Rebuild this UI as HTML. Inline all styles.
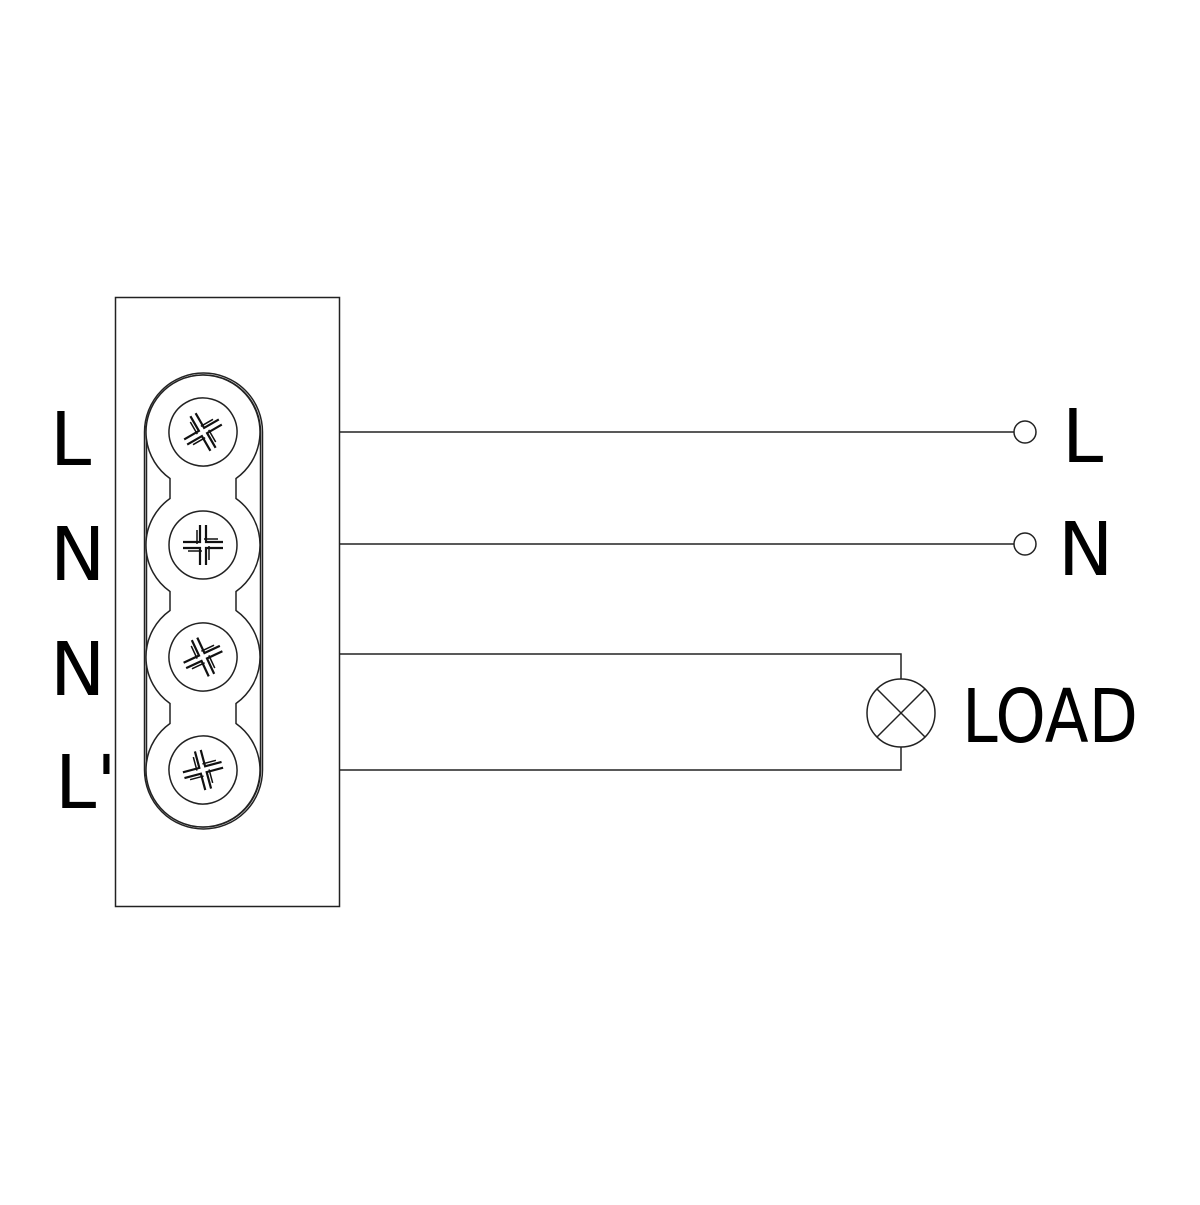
<!DOCTYPE html>
<html><head><style>html,body{margin:0;padding:0;background:#fff}</style></head>
<body>
<svg width="1200" height="1200" viewBox="0 0 1200 1200" xmlns="http://www.w3.org/2000/svg">
<defs>
<g id="scr">
<circle r="34" fill="#fff" stroke="#222" stroke-width="1.5"/>
<g stroke="#111" stroke-width="2.2" fill="none">
<path d="M-20 -3 H-3 V-20 M3 -20 V-3 H20 M20 3 H3 V20 M-3 20 V3 H-20"/>
<path d="M-6 -15 V-1 M6 15 V1 M-15 6 H-1 M15 -6 H1" stroke-width="1.5"/>
</g>
</g>
</defs>
<g fill="none" stroke="#222" stroke-width="1.5">
<rect x="115.5" y="297.5" width="224" height="609"/>
<rect x="144.5" y="373" width="118" height="456" rx="59"/>
<rect x="146.5" y="375" width="114" height="452" rx="57"/>
<path d="M170 478.5 A57 57 0 1 1 236 478.5 V498.5 A57 57 0 0 1 236 591.5 V610.5 A57 57 0 0 1 236 703.5 V723.5 A57 57 0 1 1 170 723.5 V703.5 A57 57 0 0 1 170 610.5 V591.5 A57 57 0 0 1 170 498.5 Z" fill="#fff"/>
<path d="M340 432 H1014 M340 544 H1014 M340 654 H901 V679 M901 747 V770 H340"/>
<circle cx="1025" cy="432" r="11"/>
<circle cx="1025" cy="544" r="11"/>
<circle cx="901" cy="713" r="34"/>
<path d="M877 689 L925 737 M925 689 L877 737"/>
</g>
<use href="#scr" transform="translate(203,432) rotate(-30)"/>
<use href="#scr" transform="translate(203,545)"/>
<use href="#scr" transform="translate(203,657) rotate(-25)"/>
<use href="#scr" transform="translate(203,770) rotate(-15)"/>
<g font-family="'DejaVu Sans','Liberation Sans',sans-serif" font-size="74" fill="#000">
<text x="50" y="465">L</text>
<text x="50" y="580">N</text>
<text x="50" y="695">N</text>
<text x="55" y="808">L'</text>
<text x="1062" y="462">L</text>
<text x="1058" y="575">N</text>
<text x="962" y="742" textLength="176" lengthAdjust="spacingAndGlyphs">LOAD</text>
</g>
</svg>
</body></html>
